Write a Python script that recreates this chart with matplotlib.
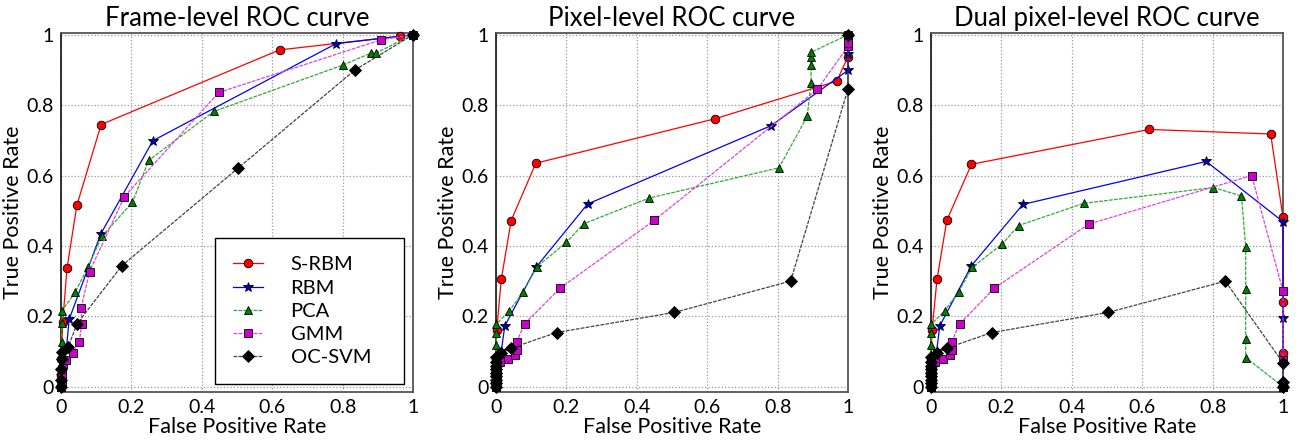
import matplotlib

matplotlib.use("Agg")
import matplotlib.pyplot as plt

plt.rcParams.update({
    "font.family": ["Lato", "DejaVu Sans"],
    "font.size": 12,
})

METHODS = ["S-RBM", "RBM", "PCA", "GMM", "OC-SVM"]
TITLES = ["Frame-level ROC curve", "Pixel-level ROC curve", "Dual pixel-level ROC curve"]
TICKS = [0, 0.2, 0.4, 0.6, 0.8, 1]
TICK_LABELS = ["0", "0.2", "0.4", "0.6", "0.8", "1"]

# ---- frame level
frame_srbm_x = [0, 0, 0.001, 0.005, 0.017, 0.045, 0.114, 0.621, 0.964, 1]
frame_srbm_y = [0, 0.03, 0.08, 0.185, 0.336, 0.515, 0.745, 0.957, 0.996, 1]
frame_rbm_x = [0, 0, 0.002, 0.016, 0.023, 0.113, 0.261, 0.782, 1]
frame_rbm_y = [0, 0.03, 0.07, 0.114, 0.191, 0.434, 0.699, 0.975, 1]
frame_pca_x = [0, 0, 0.002, 0.002, 0.003, 0.04, 0.077, 0.116, 0.203, 0.249, 0.434, 0.801, 0.881, 0.894, 1]
frame_pca_y = [0, 0.05, 0.128, 0.18, 0.216, 0.268, 0.341, 0.427, 0.524, 0.643, 0.782, 0.914, 0.948, 0.948, 1]
frame_gmm_x = [0, 0.002, 0.003, 0.004, 0.005, 0.014, 0.033, 0.052, 0.059, 0.057, 0.081, 0.18, 0.448, 0.91, 1]
frame_gmm_y = [0, 0.015, 0.03, 0.05, 0.065, 0.076, 0.097, 0.128, 0.178, 0.223, 0.327, 0.54, 0.836, 0.986, 1]
frame_ocsvm_x = [0, 0, 0.001, 0.002, 0.003, 0.021, 0.045, 0.173, 0.503, 0.835, 1]
frame_ocsvm_y = [0, 0.02, 0.05, 0.08, 0.1, 0.114, 0.178, 0.344, 0.621, 0.9, 1]

# ---- pixel level
pix_srbm_x = [0, 0, 0, 0.002, 0.015, 0.043, 0.113, 0.621, 0.968, 1, 1]
pix_srbm_y = [0, 0.04, 0.08, 0.161, 0.305, 0.472, 0.635, 0.761, 0.868, 0.938, 1]
pix_rbm_x = [0, 0, 0, 0.015, 0.025, 0.115, 0.26, 0.782, 1, 1, 1]
pix_rbm_y = [0, 0.04, 0.08, 0.101, 0.173, 0.341, 0.519, 0.742, 0.899, 0.945, 1]
pix_pca_x = [0, 0, 0.001, 0.001, 0.001, 0.038, 0.078, 0.116, 0.2, 0.249, 0.435, 0.804,
             0.884, 0.895, 0.895, 0.895, 0.895, 1]
pix_pca_y = [0, 0.06, 0.118, 0.152, 0.178, 0.216, 0.27, 0.341, 0.41, 0.463, 0.536, 0.622,
             0.768, 0.864, 0.915, 0.936, 0.95, 1]
pix_gmm_x = [0, 0.002, 0.004, 0.01, 0.033, 0.053, 0.059, 0.059, 0.081, 0.182, 0.45, 0.913, 1, 1, 1]
pix_gmm_y = [0, 0.03, 0.055, 0.071, 0.079, 0.091, 0.105, 0.128, 0.178, 0.28, 0.473, 0.845, 0.967, 0.978, 1]
pix_ocsvm_x = [0, 0, 0, 0, 0, 0, 0, 0, 0, 0.015, 0.044, 0.172, 0.506, 0.837, 1, 1]
pix_ocsvm_y = [0, 0.01, 0.02, 0.03, 0.04, 0.05, 0.06, 0.07, 0.085, 0.095, 0.11, 0.154, 0.211, 0.3, 0.846, 1]

# ---- dual pixel level
dual_srbm_x = [0, 0, 0, 0.003, 0.017, 0.045, 0.115, 0.62, 0.965, 1, 1, 1, 1]
dual_srbm_y = [0, 0.04, 0.08, 0.161, 0.305, 0.473, 0.632, 0.731, 0.718, 0.481, 0.24, 0.097, 0]
dual_rbm_x = [0, 0, 0, 0.016, 0.025, 0.115, 0.261, 0.782, 1, 1, 1]
dual_rbm_y = [0, 0.04, 0.08, 0.101, 0.173, 0.344, 0.518, 0.64, 0.469, 0.194, 0]
dual_pca_x = [0, 0, 0, 0.001, 0.001, 0.039, 0.079, 0.117, 0.203, 0.249, 0.434, 0.802,
              0.882, 0.894, 0.894, 0.894, 0.894, 1]
dual_pca_y = [0, 0.06, 0.118, 0.152, 0.178, 0.216, 0.27, 0.339, 0.406, 0.458, 0.521, 0.566,
              0.542, 0.398, 0.277, 0.135, 0.083, 0]
dual_gmm_x = [0, 0.002, 0.004, 0.011, 0.034, 0.053, 0.059, 0.059, 0.081, 0.18, 0.448, 0.911, 1, 1, 1]
dual_gmm_y = [0, 0.03, 0.055, 0.071, 0.079, 0.091, 0.104, 0.128, 0.178, 0.28, 0.462, 0.6, 0.272, 0.076, 0]
dual_ocsvm_x = [0, 0, 0, 0, 0, 0, 0, 0, 0, 0.017, 0.046, 0.173, 0.503, 0.836, 1, 1, 1]
dual_ocsvm_y = [0, 0.01, 0.02, 0.03, 0.04, 0.05, 0.06, 0.07, 0.085, 0.095, 0.11, 0.154, 0.211, 0.3, 0.068, 0.014, 0]

PANELS = [
    [(frame_srbm_x, frame_srbm_y), (frame_rbm_x, frame_rbm_y), (frame_pca_x, frame_pca_y),
     (frame_gmm_x, frame_gmm_y), (frame_ocsvm_x, frame_ocsvm_y)],
    [(pix_srbm_x, pix_srbm_y), (pix_rbm_x, pix_rbm_y), (pix_pca_x, pix_pca_y),
     (pix_gmm_x, pix_gmm_y), (pix_ocsvm_x, pix_ocsvm_y)],
    [(dual_srbm_x, dual_srbm_y), (dual_rbm_x, dual_rbm_y), (dual_pca_x, dual_pca_y),
     (dual_gmm_x, dual_gmm_y), (dual_ocsvm_x, dual_ocsvm_y)],
]

STYLE = {
    "S-RBM": dict(color="#ff0000", ls="-", marker="o", mfc="#ff0000", ms=6.2),
    "RBM": dict(color="#0000ff", ls="-", marker="*", mfc="#0000cc", ms=7),
    "PCA": dict(color="#33aa33", ls=(0, (3, 1)), marker="^", mfc="#008000", ms=6.2),
    "GMM": dict(color="#dd44dd", ls=(0, (3, 1)), marker="s", mfc="#cc00cc", ms=6.2),
    "OC-SVM": dict(color="#444444", ls=(0, (3, 1)), marker="D", mfc="#000000", ms=6.2),
}

fig = plt.figure(figsize=(13.04, 4.48), dpi=100)
lefts = [61, 496, 931]
for i, left in enumerate(lefts):
    ax = fig.add_axes([left / 1304, 1 - 392 / 448, 352 / 1304, 359 / 448])
    for name, (xs, ys) in zip(METHODS, PANELS[i]):
        st = STYLE[name]
        ax.plot(xs, ys, color=st["color"], ls=st["ls"], lw=0.9,
                marker=st["marker"], mfc=st["mfc"], mec="black", mew=0.6,
                ms=st["ms"], label=name, clip_on=False, zorder=3)
    ax.set_xlim(0, 1)
    ax.set_ylim(-0.015, 1.005)
    ax.set_xticks(TICKS)
    ax.set_xticklabels(TICK_LABELS)
    ax.set_yticks(TICKS)
    ax.set_yticklabels(TICK_LABELS)
    ax.tick_params(length=0, labelsize=14, pad=5)
    ax.grid(True, color="#999999", ls=":", lw=0.9)
    for sp in ax.spines.values():
        sp.set_color("#555555")
        sp.set_linewidth(1.3)
    ax.spines["left"].set_color("#222222")
    ax.set_title(TITLES[i], fontsize=18.5, pad=5)
    ax.set_xlabel("False Positive Rate", fontsize=15.5, labelpad=1)
    ax.set_ylabel("True Positive Rate", fontsize=15.5, labelpad=3)
    if i == 0:
        leg = ax.legend(loc="lower left", bbox_to_anchor=(0.4375, 0.022, 0.537, 0.44),
                        mode="expand", borderaxespad=0, fontsize=14.5,
                        handlelength=1.5, handletextpad=1.35, labelspacing=0.3,
                        borderpad=0.9, fancybox=False, edgecolor="black",
                        framealpha=1)
        leg.get_frame().set_linewidth(1.0)

fig.savefig("out.png", dpi=100)
